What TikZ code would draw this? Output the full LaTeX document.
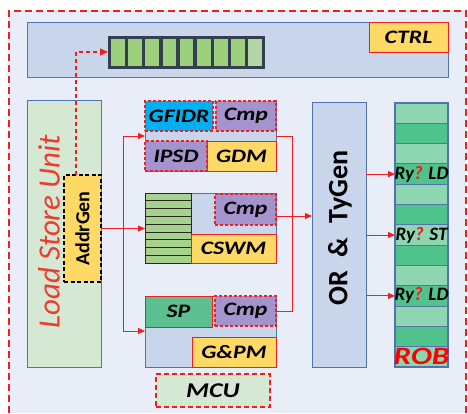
\documentclass[tikz,border=0pt]{standalone}
\usepackage{fontspec}
\setmainfont{Carlito}
\newfontfamily\lblfont{Carlito}[FakeStretch=1.25]
\usetikzlibrary{arrows.meta}
\definecolor{bgblue}{HTML}{E8EDF7}
\definecolor{panel}{HTML}{C8D5EB}
\definecolor{bord}{HTML}{4F74AE}
\definecolor{lgreen}{HTML}{D5E8D4}
\definecolor{yel}{HTML}{FFD966}
\definecolor{cyanb}{HTML}{00B0F0}
\definecolor{purp}{HTML}{A493CC}
\definecolor{spg}{HTML}{5CBF8F}
\definecolor{robl}{HTML}{8ED6B2}
\definecolor{robd}{HTML}{50C28B}
\definecolor{qcell}{HTML}{9DD07C}
\definecolor{qlast}{HTML}{B3D6A6}
\definecolor{qframe}{HTML}{333F50}
\definecolor{stk}{HTML}{A9D18E}
\definecolor{myred}{HTML}{F01E1E}
\definecolor{lsured}{HTML}{EE3B2B}
\newcommand{\mybox}[7]{\node[#6, minimum width={((#4)-(#2))*1pt}, minimum height={((#5)-(#3))*1pt}] (#1) at ({((#2)+(#4))/2},{((#3)+(#5))/2}) {#7};}
\begin{document}
\begin{tikzpicture}[x=1pt, y=-1pt, inner sep=0pt, outer sep=0pt,
  blk/.style={draw=bord, fill=panel, line width=1pt},
  rdash/.style={draw=myred, dash pattern=on 3pt off 2pt, line width=1.1pt},
  rsolid/.style={draw=myred, line width=1pt},
  lbl/.style={font=\lblfont\bfseries\itshape\fontsize{19}{19}\selectfont},
  conn/.style={draw=myred, line width=1pt},
  arr/.style={conn, -{Triangle[length=7pt,width=6pt]}},
  robrow/.style={draw=bord, line width=0.9pt},
  rytext/.style={font=\bfseries\itshape\fontsize{19}{19}\selectfont}]
\fill[white] (0,0) rectangle (468,413);
\useasboundingbox (0,0) rectangle (468,413);
\fill[bgblue] (9,11) rectangle (466,413);
\draw[myred, dash pattern=on 7pt off 4pt, line width=1.3pt] (9,413) -- (9,11) -- (466,11) -- (466,413);
% control panel
\mybox{ctrlpanel}{27}{22}{448}{77}{blk}{}
\mybox{ctrl}{369}{22}{448}{52}{rsolid,fill=yel,lbl}{CTRL}
\mybox{queue}{108}{36}{265}{69}{fill=qframe}{}
\foreach \i in {0,...,7} {\fill[qcell] ({111+\i*17.17},39) rectangle ++(13.67,27);}
\fill[qlast] ({111+8*17.17},39) rectangle ++(13.67,27);
% load store unit
\mybox{lsu}{27}{100}{101}{367}{draw=bord, fill=lgreen, line width=1pt}{}
\node[rotate=90, text=lsured, font=\itshape\fontsize{31}{31}\selectfont] (lsutext) at (49,232) {Load Store Unit};
\mybox{addr}{64}{175}{101}{282}{draw=black, fill=yel, dash pattern=on 4pt off 2.5pt, line width=1.6pt}{}
\node[rotate=90, font=\bfseries\fontsize{20}{20}\selectfont] (addrtext) at (addr.center) {AddrGen};
\coordinate (qin) at (76,52);
\draw[myred, dash pattern=on 4pt off 3pt, line width=1.1pt, -{Triangle[length=8pt,width=7pt]}] (addr.north -| qin) -- (qin) -- (queue.west |- qin);
% block 1
\mybox{blk1}{145}{101}{276}{171}{blk}{}
\mybox{gfidr}{145}{101}{213}{131}{rdash,fill=cyanb,lbl}{GFIDR}
\mybox{cmpa}{216}{101}{276}{131}{rdash,fill=purp,lbl}{Cmp}
\mybox{ipsd}{145}{141}{207}{171}{rdash,fill=purp,lbl}{IPSD}
\mybox{gdm}{207}{141}{276}{171}{rsolid,fill=yel,lbl}{GDM}
% block 2
\mybox{blk2}{145}{193}{276}{263}{blk}{}
\mybox{stack}{145}{193}{191}{263}{draw=black!85, fill=stk, line width=0.9pt}{}
\foreach \i in {1,...,8} {\draw[black!85, line width=0.8pt] (145,{193+\i*7.78}) -- (191,{193+\i*7.78});}
\mybox{cmpb}{215}{194}{276}{225}{rdash,fill=purp,lbl}{Cmp}
\mybox{cswm}{191}{234}{276}{263}{rsolid,fill=yel,lbl}{CSWM}
% block 3
\mybox{blk3}{145}{296}{276}{367}{blk}{}
\mybox{sp}{145}{296}{212}{327}{rsolid,fill=spg,lbl}{SP}
\mybox{cmpc}{215}{296}{276}{326}{rdash,fill=purp,lbl}{Cmp}
\mybox{gpm}{192}{337}{276}{367}{rsolid,fill=yel,lbl}{G\&PM}
% MCU
\mybox{mcu}{156}{374}{270}{407}{draw=myred, dash pattern=on 5pt off 3pt, line width=1.5pt, fill=lgreen, font=\lblfont\bfseries\itshape\fontsize{21}{21}\selectfont}{MCU}
% address arrows
\coordinate (bus1) at (123,136);
\coordinate (bus3) at (123,331);
\draw[conn] (addr.east) -- (addr.east -| bus1);
\draw[conn] (bus1) -- (bus3);
\draw[arr] (bus1) -- (blk1.west |- bus1);
\draw[arr] (addr.east -| bus1) -- (blk2.west |- addr.east);
\draw[arr] (bus3) -- (blk3.west |- bus3);
% OR & TyGen
\mybox{orbox}{312}{102}{366}{367}{blk}{}
\node[rotate=90, font=\bfseries\fontsize{28}{28}\selectfont] (ortext) at (340,228) {OR\hspace{14pt}\&\hspace{14pt}TyGen};
\coordinate (jn) at (292,136);
\draw[conn] (blk1.east |- jn) -- (jn) -- (jn |- cmpc.east) -- (cmpc.east);
\coordinate (c2) at (276,216);
\draw[arr] (c2) -- (orbox.west |- c2);
% ROB
\foreach \i in {0,2,...,12} {\mybox{r\i}{395}{103+\i*20.3077}{448}{123.3077+\i*20.3077}{robrow,fill=robl}{}}
\foreach \i in {1,3,...,11} {\mybox{r\i}{395}{103+\i*20.3077}{448}{123.3077+\i*20.3077}{robrow,fill=robd}{}}
\draw[bord, line width=1.3pt] (r0.north west) rectangle (r12.south east);
\node[rytext] (t1) at (r3.center) {Ry\textcolor{myred}{?} LD};
\node[rytext] (t2) at (r6.center) {Ry\textcolor{myred}{?} ST};
\node[rytext] (t3) at (r9.center) {Ry\textcolor{myred}{?} LD};
\node[font=\lblfont\bfseries\itshape\fontsize{25}{25}\selectfont, text=red] (robt) at (r12.center) {ROB};
\draw[arr] (orbox.east |- r3.center) -- (r3.west);
\draw[arr] (orbox.east |- r6.center) -- (r6.west);
\draw[arr] (orbox.east |- r9.center) -- (r9.west);
\end{tikzpicture}
\end{document}
